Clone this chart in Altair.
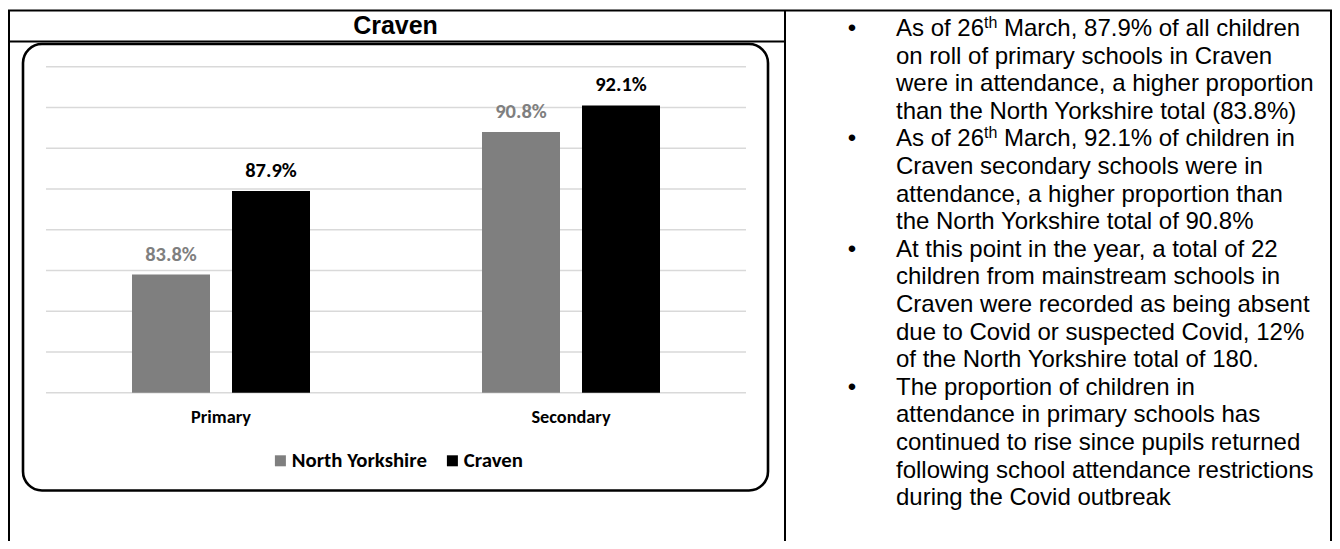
import altair as alt
import pandas as pd

# ---------------- data ----------------
categories = ["Primary", "Secondary"]
series = ["North Yorkshire", "Craven"]
north_yorkshire = [83.8, 90.8]
craven = [87.9, 92.1]
series_colors = ["#7f7f7f", "#000000"]
grid_values = [78, 80, 82, 84, 86, 88, 90, 92, 94]
title_text = "Craven"
bullet_lines = [
    "As of 26th March, 87.9% of all children",
    "on roll of primary schools in Craven",
    "were in attendance, a higher proportion",
    "than the North Yorkshire total (83.8%)",
    "As of 26th March, 92.1% of children in",
    "Craven secondary schools were in",
    "attendance, a higher proportion than",
    "the North Yorkshire total of 90.8%",
    "At this point in the year, a total of 22",
    "children from mainstream schools in",
    "Craven were recorded as being absent",
    "due to Covid or suspected Covid, 12%",
    "of the North Yorkshire total of 180.",
    "The proportion of children in",
    "attendance in primary schools has",
    "continued to rise since pupils returned",
    "following school attendance restrictions",
    "during the Covid outbreak",
]
bullet_starts = [0, 4, 8, 13]

# ---------------- layout helpers (page px -> plot px) ----------------
OX, OY = 8, 8
def px(v):
    return v - OX
def py(v):
    return v - OY

CHART_FONT = "Carlito, Calibri, Lato, sans-serif"
TEXT_FONT = "Liberation Sans, Arial, sans-serif"

one = pd.DataFrame({"k": [0]})

rows = []
for c, ny, cr in zip(categories, north_yorkshire, craven):
    rows.append({"category": c, "series": series[0], "value": ny})
    rows.append({"category": c, "series": series[1], "value": cr})
bars_df = pd.DataFrame(rows)
bars_df["label"] = bars_df["value"].map(lambda v: f"{v:.1f}%")

X_SCALE = alt.Scale(domain=categories, range=[px(46), px(746)], paddingInner=0, paddingOuter=0)
XO_SCALE = alt.Scale(domain=series, paddingInner=0.22, paddingOuter=0.86)
Y_SCALE = alt.Scale(domain=[78, 94], range=[py(392.7), py(66.7)], zero=False, nice=False)
C_SCALE = alt.Scale(domain=series, range=series_colors)

def hline(x1, x2, y, w=2, color="black"):
    return alt.Chart(one).mark_rule(color=color, strokeWidth=w).encode(
        x=alt.value(px(x1)), x2=alt.value(px(x2)), y=alt.value(py(y)))

def vline(x, y1, y2, w=2, color="black"):
    return alt.Chart(one).mark_rule(color=color, strokeWidth=w).encode(
        x=alt.value(px(x)), y=alt.value(py(y1)), y2=alt.value(py(y2)))

# table lines
table = [
    hline(8, 1332, 10.5),
    hline(8, 785, 41.5, w=2.2),
    vline(9, 10, 560),
    vline(785, 10, 560),
    vline(1331, 10, 560),
]

box = alt.Chart(one).mark_rect(
    cornerRadius=19, fill="white", stroke="black", strokeWidth=2.6
).encode(x=alt.value(px(23)), x2=alt.value(px(768)),
         y=alt.value(py(44)), y2=alt.value(py(490.5)))

title = alt.Chart(pd.DataFrame({"t": [title_text]})).mark_text(
    font=TEXT_FONT, fontSize=25, fontWeight="bold", color="black",
    align="center", baseline="alphabetic"
).encode(x=alt.value(px(395.5)), y=alt.value(py(33.5)), text="t:N")

grid = alt.Chart(pd.DataFrame({"g": grid_values})).mark_rule(
    color="#d9d9d9", strokeWidth=1.5
).encode(y=alt.Y("g:Q", scale=Y_SCALE, axis=None),
         x=alt.value(px(46)), x2=alt.value(px(746)))

bars = alt.Chart(bars_df).mark_bar().encode(
    x=alt.X("category:N", scale=X_SCALE, axis=None, sort=categories),
    xOffset=alt.XOffset("series:N", scale=XO_SCALE, sort=series),
    y=alt.Y("value:Q", scale=Y_SCALE, axis=None),
    y2=alt.datum(78),
    color=alt.Color("series:N", scale=C_SCALE, sort=series, legend=alt.Legend(
        title=None, orient="none", legendX=px(270), legendY=py(450),
        direction="horizontal", symbolType="square", symbolSize=121,
        symbolStrokeWidth=0, labelFont=CHART_FONT, labelFontSize=20.8,
        labelFontWeight="bold", labelColor="black", labelOffset=1,
        columnPadding=15, padding=0)),
)

labels = alt.Chart(bars_df).mark_text(
    font=CHART_FONT, fontSize=20.5, fontWeight="bold", baseline="middle", dy=-20
).encode(
    x=alt.X("category:N", scale=X_SCALE, axis=None, sort=categories),
    xOffset=alt.XOffset("series:N", scale=XO_SCALE, sort=series),
    y=alt.Y("value:Q", scale=Y_SCALE, axis=None),
    text="label:N",
    color=alt.Color("series:N", scale=C_SCALE, legend=None),
)

cat_labels = alt.Chart(pd.DataFrame({"category": categories})).mark_text(
    font=CHART_FONT, fontSize=18.3, fontWeight="bold", color="black", baseline="middle"
).encode(
    x=alt.X("category:N", scale=X_SCALE, axis=None, sort=categories),
    y=alt.value(py(417.7)),
    text="category:N",
)

# ---------------- bullet text ----------------
LINE_SCALE = alt.Scale(domain=[0, len(bullet_lines) - 1],
                       range=[py(36), py(36 + 27.6 * (len(bullet_lines) - 1))],
                       zero=False, nice=False)
main_rows, sup_rows = [], []
for i, s in enumerate(bullet_lines):
    if "26th " in s:
        pre, post = s.split("26th ", 1)
        main_rows.append({"line": i, "text": pre + "26"})
        sup_rows.append({"line": i, "sup": "th", "post": post})
    else:
        main_rows.append({"line": i, "text": s})
main_df = pd.DataFrame(main_rows)
sup_df = pd.DataFrame(sup_rows)
bul_df = pd.DataFrame({"line": bullet_starts, "b": ["\u2022"] * len(bullet_starts)})

TEXT_X = 896
PRE_W = 88.06    # width of "As of 26" at 24px Arial
SUP_W = 13.3     # width of "th" at 16px
SPACE_W = 6.67

text_main = alt.Chart(main_df).mark_text(
    font=TEXT_FONT, fontSize=24, color="black", align="left", baseline="alphabetic"
).encode(x=alt.value(px(TEXT_X)),
         y=alt.Y("line:Q", scale=LINE_SCALE, axis=None), text="text:N")

text_sup = alt.Chart(sup_df).mark_text(
    font=TEXT_FONT, fontSize=16, color="black", align="left", baseline="alphabetic", dy=-8
).encode(x=alt.value(px(TEXT_X + PRE_W)),
         y=alt.Y("line:Q", scale=LINE_SCALE, axis=None), text="sup:N")

text_post = alt.Chart(sup_df).mark_text(
    font=TEXT_FONT, fontSize=24, color="black", align="left", baseline="alphabetic"
).encode(x=alt.value(px(TEXT_X + PRE_W + SUP_W + SPACE_W)),
         y=alt.Y("line:Q", scale=LINE_SCALE, axis=None), text="post:N")

bullets = alt.Chart(bul_df).mark_text(
    font=TEXT_FONT, fontSize=24, color="black", align="center", baseline="alphabetic"
).encode(x=alt.value(px(852)),
         y=alt.Y("line:Q", scale=LINE_SCALE, axis=None), text="b:N")

chart = alt.layer(
    box, *table, title, grid, bars, labels, cat_labels,
    text_main, text_sup, text_post, bullets
).resolve_scale(
    y="independent", color="independent"
).properties(
    width=1324, height=533,
    autosize=alt.AutoSizeParams(type="none"),
    padding=0,
).configure_view(stroke=None)

chart.save("out.html", embed_options={"renderer": "svg", "actions": False})
